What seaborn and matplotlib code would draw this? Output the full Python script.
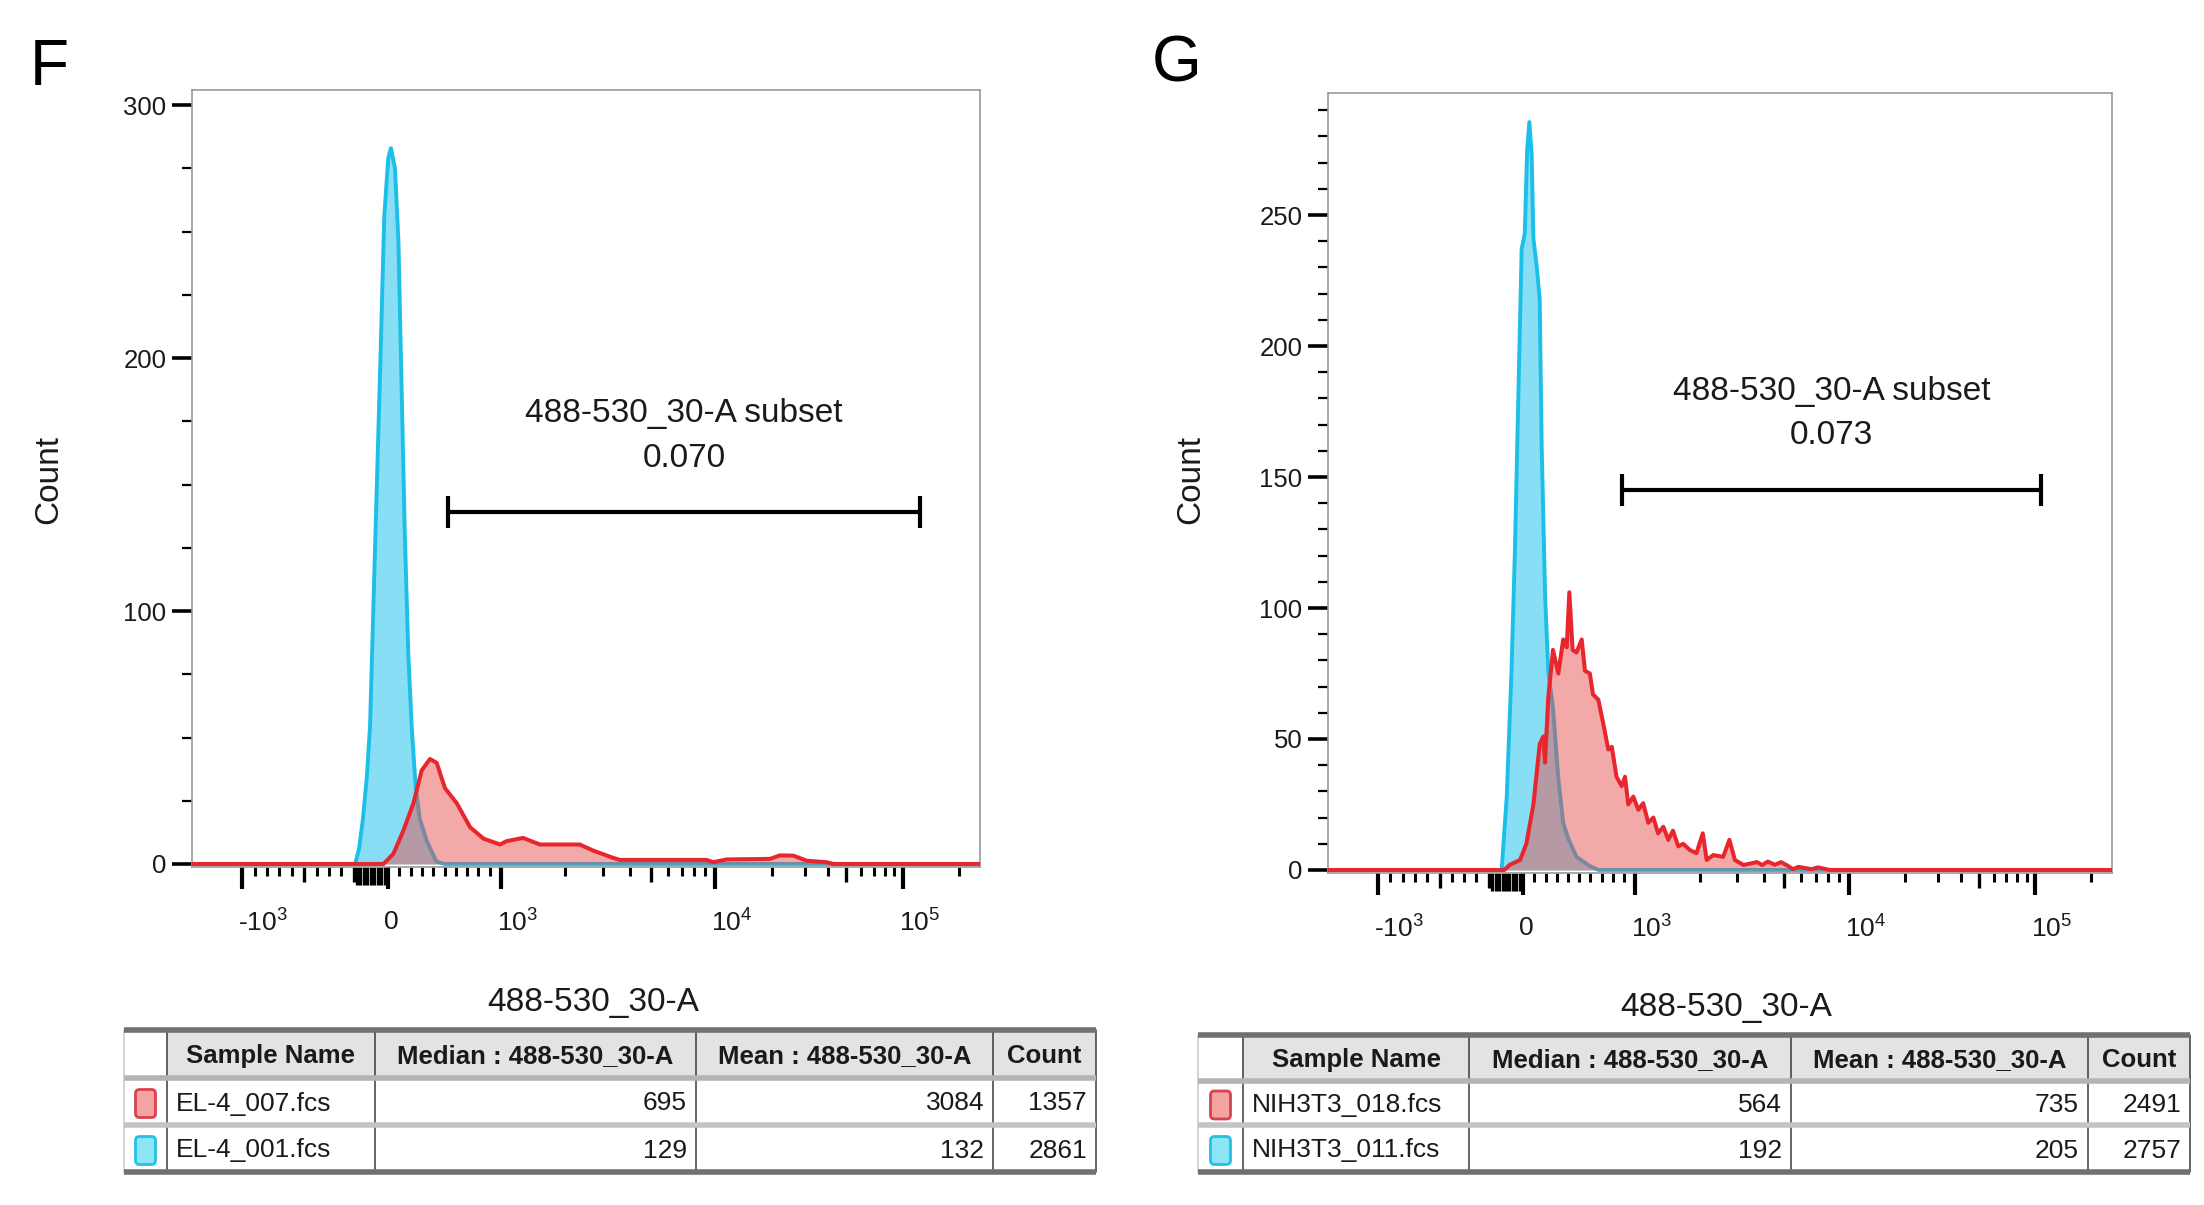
import matplotlib
matplotlib.use("Agg")
import matplotlib.pyplot as plt
import matplotlib.transforms as mtransforms
from matplotlib.patches import FancyBboxPatch, Rectangle
import numpy as np
import seaborn as sns

# ---------------------------
# Datos (x en canal de visualizacion 0-1000)
# ---------------------------
F_blue_ch = [0, 207, 212, 217, 222, 226, 232, 239, 244, 249, 252.5, 257.6, 262, 266, 270,
             274.5, 279, 284, 289, 298, 310, 320, 1000]
F_blue_cnt = [0, 0, 6, 18, 35, 55, 122, 198, 256, 279, 283, 275, 246, 188, 131,
              83, 53, 30, 18, 9, 1, 0, 0]
F_red_ch = [0, 243, 255.5, 268, 281, 291.5, 302, 310.5, 321, 336, 353, 370, 391, 399, 420,
            441.6, 458.5, 492, 509, 534.6, 543, 577, 653, 661.6, 678.5, 733.5, 746, 763,
            780, 805, 814, 1000]
F_red_cnt = [0, 0, 4, 13, 24, 37, 41.5, 40, 30, 24, 14.5, 10, 7.7, 9, 10.3,
             7.7, 7.7, 7.7, 5.3, 2.4, 1.6, 1.6, 1.6, 0.7, 1.8, 2, 3.4, 3.3,
             1.3, 0.7, 0, 0]

G_blue_ch = [0, 221.5, 228, 234, 238.5, 242.7, 247, 251, 254, 256.8, 259.8, 262, 266, 270,
             272.6, 277, 281, 287, 293.7, 300, 306.5, 317, 334, 345, 1000]
G_blue_cnt = [0, 0, 28, 75.5, 123, 180, 237, 243, 275, 285.5, 273, 241, 231, 218,
              161, 104, 75.5, 62, 35, 18, 12, 5, 1.5, 0, 0]
G_red_ch = [0, 225, 232, 245, 253, 262, 270, 274.6, 276.8, 281, 287, 293.8, 300, 304.5,
            307.8, 312, 317, 323.6, 327.8, 334, 338, 344.8, 351, 357.5, 362, 368, 374.6,
            378.8, 383, 389.4, 395.8, 402, 408.5, 415, 421, 427.7, 434, 440, 446.8, 453,
            461.7, 470, 478, 483, 491.5, 504, 512, 519, 530, 547, 554, 561, 570, 578, 587,
            593, 600, 617, 625, 640, 1000]
G_red_cnt = [0, 0, 2, 3.8, 10, 25, 48, 51, 41, 66, 84, 75, 88, 85,
             106, 84, 83, 88, 76, 75, 67, 65, 56, 46, 47, 35.6, 32,
             35.6, 25, 28, 23, 25.5, 18, 20, 14, 16.5, 11.5, 15, 9, 10,
             7.6, 6.4, 14, 3.8, 5.7, 5, 11.5, 3.8, 1.9, 3, 1.9, 3.2, 2, 3, 1.5,
             0.3, 1.2, 0.3, 1, 0, 0]

# puerta (inicio, fin, altura) y frecuencia
F_gate = [325, 924, 139]
G_gate = [375, 909, 145]
F_freq = "0.070"
G_freq = "0.073"
gate_name = "488-530_30-A subset"
channel_name = "488-530_30-A"

headers = ["Sample Name", "Median : 488-530_30-A", "Mean : 488-530_30-A", "Count"]
F_samples = ["EL-4_007.fcs", "EL-4_001.fcs"]
F_median = [695, 129]
F_mean = [3084, 132]
F_count = [1357, 2861]
G_samples = ["NIH3T3_018.fcs", "NIH3T3_011.fcs"]
G_median = [564, 192]
G_mean = [735, 205]
G_count = [2491, 2757]

# ---------------------------
# Escala biexponencial (valor -> canal)
# ---------------------------
def to_channel(v):
    v = np.asarray(v, float)
    out = np.interp(v, [-1000, -100, 0, 1000], [64, 205, 249, 392])
    hi = v > 1000
    lg = np.log10(v[hi])
    out[hi] = np.where(lg <= 4, 392 + (lg - 3) * 272, 664 + (lg - 4) * 238)
    return out


label_vals = [-1000, 0, 1000, 10000, 100000]
label_txt = ["-$\\mathregular{10^{3}}$", "0", "$\\mathregular{10^{3}}$",
             "$\\mathregular{10^{4}}$", "$\\mathregular{10^{5}}$"]
mid_vals = [-500, -100, 5000, 50000]
near0_vals = [-90, -80, -70, -60, -50, -40, -30, -20, -10]
short_vals = ([-900, -800, -700, -600, -400, -300, -200] +
              [100, 200, 300, 400, 500, 600, 700, 800, 900] +
              [2000, 3000, 4000, 6000, 7000, 8000, 9000] +
              [20000, 30000, 40000, 60000, 70000, 80000, 90000, 200000])

BLUE_FILL = "#88dff5"
BLUE_LINE = "#1bbfe8"
RED_FILL = "#e84a4a"
RED_LINE = "#e8262e"
TXT = "#1a1a1a"

sns.set_theme(style="white")
plt.rcParams["font.family"] = ["Liberation Sans", "DejaVu Sans"]
plt.rcParams["mathtext.fontset"] = "custom"
plt.rcParams["mathtext.rm"] = "Liberation Sans"
plt.rcParams["axes.unicode_minus"] = False

W, H = 2204, 1205
fig = plt.figure(figsize=(W / 100, H / 100), dpi=100)
fig.patch.set_facecolor("white")


def draw_panel(rect_px, blue_ch, blue_cnt, red_ch, red_cnt, ylim, ymajor, yminor, gate, freq):
    x0, y_top, x1, y_bot = rect_px
    ax = fig.add_axes([x0 / W, 1 - y_bot / H, (x1 - x0) / W, (y_bot - y_top) / H])
    ax.fill_between(blue_ch, blue_cnt, color=BLUE_FILL, lw=0, zorder=1)
    sns.lineplot(x=blue_ch, y=blue_cnt, ax=ax, color=BLUE_LINE, lw=2.8,
                 sort=False, estimator=None, zorder=2)
    ax.fill_between(red_ch, red_cnt, color=RED_FILL, alpha=0.47, lw=0, zorder=3)
    sns.lineplot(x=red_ch, y=red_cnt, ax=ax, color=RED_LINE, lw=2.9,
                 sort=False, estimator=None, zorder=4)
    ax.set_xlim(0, 1000)
    ax.set_ylim(*ylim)

    # puerta
    g0, g1, gy = gate
    ax.plot([g0, g1], [gy, gy], color="black", lw=3, marker="|", ms=23, mew=3,
            solid_capstyle="butt", zorder=5)
    gm = (g0 + g1) / 2
    ax.annotate(gate_name, xy=(gm, gy), xytext=(0, 71), textcoords="offset points",
                ha="center", va="center", fontsize=24, color=TXT)
    ax.annotate(freq, xy=(gm, gy), xytext=(0, 39), textcoords="offset points",
                ha="center", va="center", fontsize=24, color=TXT)

    # marco
    for s in ax.spines.values():
        s.set_color("#9a9a9a")
        s.set_linewidth(1.2)

    # eje y
    ax.set_yticks(ymajor)
    ax.set_yticks(np.arange(0, ylim[1], yminor), minor=True)
    ax.tick_params(axis="y", which="major", direction="out", length=14.5, width=2.6,
                   color="black", labelsize=18.5, labelcolor=TXT, pad=4, left=True)
    ax.tick_params(axis="y", which="minor", direction="out", length=7, width=1.6,
                   color="black", left=True)

    # eje x
    maj_ch = list(to_channel(label_vals)) + list(to_channel(mid_vals)) + list(to_channel(near0_vals))
    maj_lab = label_txt + [""] * (len(mid_vals) + len(near0_vals))
    ax.set_xticks(maj_ch, maj_lab)
    ax.set_xticks(to_channel(short_vals), minor=True)
    ax.tick_params(axis="x", which="major", direction="out", length=16, width=3,
                   color="black", labelsize=19, labelcolor=TXT, pad=15, bottom=True)
    ax.tick_params(axis="x", which="minor", direction="out", length=6.5, width=2.2,
                   color="black", bottom=True)
    n_lab = len(label_vals)
    for i, t in enumerate(ax.xaxis.get_major_ticks()):
        if i >= n_lab:
            t.tick1line.set_markersize(11 if i < n_lab + len(mid_vals) else 13)
            t.tick1line.set_markeredgewidth(2.4)
    off = mtransforms.ScaledTranslation(-4 / 100, 0, fig.dpi_scale_trans)
    for lab in ax.get_xticklabels():
        lab.set_ha("left")
        lab.set_transform(lab.get_transform() + off)

    ax.set_ylabel("Count", fontsize=24, color=TXT)
    ax.set_xlabel(channel_name, fontsize=24, color=TXT)
    return ax


def place_labels(ax, rect_px, ylab_x, xlab_xy):
    x0, y_top, x1, y_bot = rect_px
    w_px, h_px = x1 - x0, y_bot - y_top
    ax.yaxis.label.set_va("center")
    ax.yaxis.set_label_coords((ylab_x - x0) / w_px, (y_bot - 480) / h_px)
    ax.xaxis.label.set_va("center")
    ax.xaxis.set_label_coords((xlab_xy[0] - x0) / w_px, (y_bot - xlab_xy[1]) / h_px)


F_rect = (192, 90, 980, 866.5)
G_rect = (1328, 93, 2112, 872.6)
axF = draw_panel(F_rect, F_blue_ch, F_blue_cnt, F_red_ch, F_red_cnt, (-1, 306),
                 [0, 100, 200, 300], 25, F_gate, F_freq)
axG = draw_panel(G_rect, G_blue_ch, G_blue_cnt, G_red_ch, G_red_cnt, (-1, 296.6),
                 [0, 50, 100, 150, 200, 250], 10, G_gate, G_freq)
place_labels(axF, F_rect, 49, (593, 1003))
place_labels(axG, G_rect, 1191, (1726, 1007))

fig.text(49 / W, 1 - 68 / H, "F", fontsize=46, ha="center", va="center", color="black")
fig.text(1177 / W, 1 - 64 / H, "G", fontsize=46, ha="center", va="center", color="black")

# ---------------------------
# Tablas de estadisticas
# ---------------------------
tab = fig.add_axes([0, 0, 1, 1], zorder=-1)
tab.set_xlim(0, W)
tab.set_ylim(H, 0)
tab.axis("off")


def draw_table(cols, rows, samples, medians, means, counts):
    # fondo cabecera
    tab.add_patch(Rectangle((cols[1], rows[0]), cols[-1] - cols[1], rows[1] - rows[0],
                            color="#e3e3e3", lw=0))
    for xc in cols[1:]:
        tab.plot([xc, xc], [rows[0], rows[-1]], color="#3a3a3a", lw=1.1)
    tab.plot([cols[0], cols[0]], [rows[0], rows[-1]], color="#c8c8c8", lw=1.1)
    tab.plot([cols[0], cols[-1]], [rows[0], rows[0]], color="#707070", lw=4, solid_capstyle="butt")
    tab.plot([cols[0], cols[-1]], [rows[1], rows[1]], color="#b4b4b4", lw=4, solid_capstyle="butt")
    tab.plot([cols[0], cols[-1]], [rows[2], rows[2]], color="#c4c4c4", lw=4, solid_capstyle="butt")
    tab.plot([cols[0], cols[-1]], [rows[3], rows[3]], color="#707070", lw=4, solid_capstyle="butt")
    hy = (rows[0] + rows[1]) / 2 + 2
    for j, h in enumerate(headers):
        tab.text((cols[j + 1] + cols[j + 2]) / 2, hy, h, ha="center", va="center",
                 fontsize=18.5, fontweight="bold", color=TXT)
    sw = [("#f4a3a3", "#d8424a"), ("#8ee5f6", "#22c2e6")]
    for i in range(len(samples)):
        ry = (rows[i + 1] + rows[i + 2]) / 2 + 2
        cx = (cols[0] + cols[1]) / 2
        fc, ec = sw[i]
        tab.add_patch(FancyBboxPatch((cx - 10, ry - 14), 20, 28,
                                     boxstyle="round,pad=0,rounding_size=4",
                                     fc=fc, ec=ec, lw=2))
        tab.text(cols[1] + 9, ry, samples[i], ha="left", va="center", fontsize=19, color=TXT)
        for j, v in enumerate([medians[i], means[i], counts[i]]):
            tab.text(cols[j + 3] - 9, ry, str(v), ha="right", va="center", fontsize=19, color=TXT)


draw_table([124, 167, 375, 696, 993, 1096], [1030, 1078, 1125, 1172],
           F_samples, F_median, F_mean, F_count)
draw_table([1198, 1243, 1469, 1791, 2088, 2190], [1035, 1081, 1125, 1172],
           G_samples, G_median, G_mean, G_count)

fig.savefig("out.png", dpi=100, facecolor="white")
